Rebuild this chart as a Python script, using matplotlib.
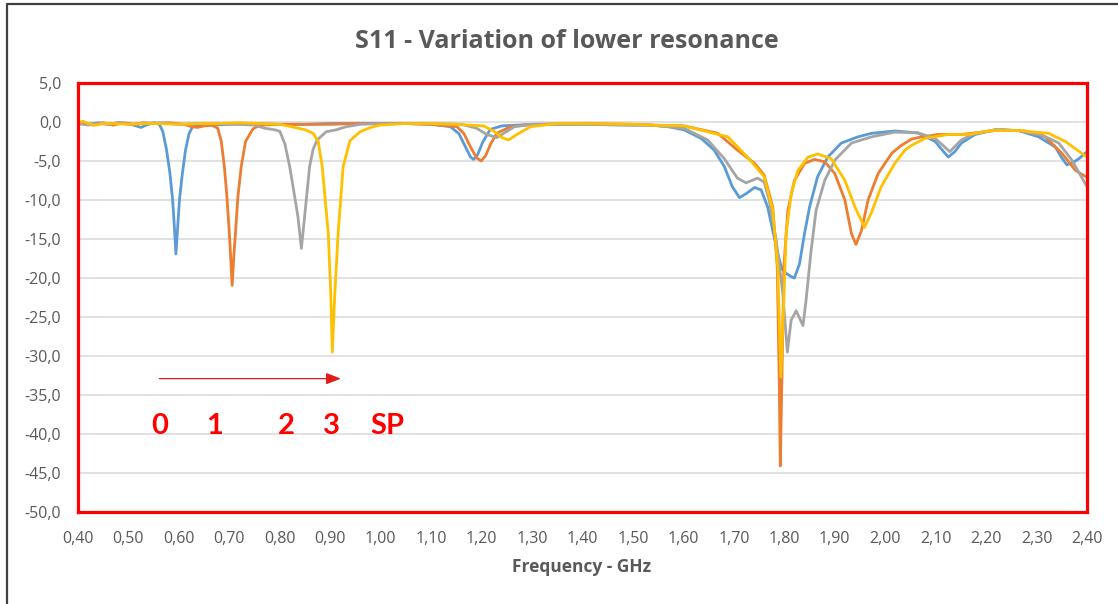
import numpy as np
import matplotlib.pyplot as plt
from matplotlib.lines import Line2D
from matplotlib.ticker import FixedLocator, FuncFormatter

plt.rcParams['font.family'] = ['Open Sans', 'DejaVu Sans']

# S11 sweeps (GHz, dB) for each tuning step
freq_0 = [0.40, 0.42, 0.44, 0.46, 0.48, 0.50, 0.515, 0.525, 0.535, 0.55, 0.561, 0.568,
          0.5755, 0.582, 0.5875, 0.591, 0.594, 0.597, 0.601, 0.607, 0.613, 0.620, 0.627,
          0.64, 0.66, 0.70, 0.75, 0.80, 0.85, 0.90, 0.95, 1.00, 1.05, 1.10, 1.138, 1.155,
          1.168, 1.178, 1.184, 1.192, 1.202, 1.217, 1.24, 1.30, 1.40, 1.50, 1.535, 1.57,
          1.601, 1.635, 1.661, 1.681, 1.697, 1.711, 1.724, 1.741, 1.754, 1.767, 1.777,
          1.787, 1.795, 1.8036, 1.813, 1.820, 1.830, 1.840, 1.850, 1.866, 1.886, 1.913,
          1.946, 1.973, 2.019, 2.065, 2.099, 2.113, 2.125, 2.138, 2.151, 2.178, 2.218,
          2.264, 2.304, 2.337, 2.350, 2.360, 2.372, 2.384, 2.400]
s11_0 = [-0.1, -0.3, -0.1, -0.3, -0.1, -0.2, -0.5, -0.7, -0.4, -0.1, -0.3, -1.2,
         -3.6, -6.5, -10.0, -13.5, -16.9, -14.0, -10.0, -6.5, -3.6, -1.5, -0.6,
         -0.5, -0.4, -0.3, -0.2, -0.3, -0.3, -0.2, -0.2, -0.2, -0.2, -0.3, -0.6, -1.5,
         -3.2, -4.5, -4.8, -4.2, -2.6, -0.95, -0.5, -0.3, -0.3, -0.4, -0.4, -0.6,
         -1.0, -2.1, -3.6, -5.7, -8.3, -9.7, -9.2, -8.4, -8.7, -10.9, -13.9,
         -16.9, -18.8, -19.4, -19.8, -20.0, -18.2, -14.3, -10.9, -7.0, -4.5, -2.7,
         -1.9, -1.45, -1.15, -1.4, -2.5, -3.6, -4.5, -3.8, -2.7, -1.6, -1.0,
         -1.1, -1.9, -3.2, -4.6, -5.5, -5.2, -4.7, -3.8]

freq_1 = [0.40, 0.41, 0.43, 0.45, 0.47, 0.49, 0.51, 0.53, 0.55, 0.58, 0.61, 0.625, 0.637,
          0.65, 0.665, 0.677, 0.684, 0.690, 0.695, 0.700, 0.7055, 0.709, 0.712, 0.717,
          0.7235, 0.732, 0.7465, 0.76, 0.80, 0.85, 0.90, 0.95, 1.00, 1.05, 1.10, 1.151,
          1.165, 1.178, 1.190, 1.199, 1.208, 1.218, 1.230, 1.257, 1.30, 1.40, 1.50, 1.535,
          1.601, 1.668, 1.707, 1.741, 1.760, 1.777, 1.786, 1.790, 1.792, 1.795, 1.799,
          1.807, 1.820, 1.840, 1.860, 1.880, 1.900, 1.920, 1.933, 1.942, 1.953, 1.966,
          1.986, 2.013, 2.032, 2.052, 2.065, 2.105, 2.151, 2.198, 2.231, 2.277, 2.317,
          2.350, 2.377, 2.400]
s11_1 = [-0.3, -0.1, -0.4, -0.1, -0.4, -0.1, -0.3, -0.1, -0.2, -0.1, -0.3, -0.6, -0.7,
         -0.5, -0.4, -0.8, -2.5, -5.7, -9.5, -14.3, -20.95, -17.0, -14.3, -9.5,
         -5.7, -2.5, -0.9, -0.4, -0.3, -0.3, -0.3, -0.2, -0.2, -0.2, -0.3, -0.6,
         -1.5, -3.2, -4.6, -5.0, -4.3, -2.8, -1.45, -0.6, -0.3, -0.2, -0.3, -0.4,
         -0.5, -1.45, -3.6, -5.3, -6.8, -10.9, -18.6, -33.6, -44.1, -33.6, -18.6,
         -11.3, -7.5, -5.3, -4.8, -5.1, -6.6, -10.0, -14.3, -15.7, -13.9, -10.0,
         -6.6, -4.0, -3.0, -2.2, -2.0, -1.6, -1.6, -1.25, -1.0, -1.15, -1.9,
         -4.0, -6.2, -7.1]

freq_2 = [0.40, 0.42, 0.44, 0.46, 0.48, 0.50, 0.53, 0.56, 0.60, 0.64, 0.68, 0.72, 0.75,
          0.77, 0.79, 0.80, 0.81, 0.8195, 0.828, 0.836, 0.8427, 0.849, 0.859, 0.866,
          0.874, 0.892, 0.912, 0.932, 0.959, 1.00, 1.05, 1.10, 1.16, 1.19, 1.21, 1.230,
          1.245, 1.265, 1.30, 1.40, 1.50, 1.535, 1.601, 1.648, 1.681, 1.707, 1.724, 1.747,
          1.760, 1.770, 1.784, 1.797, 1.806, 1.8135, 1.8235, 1.837, 1.843, 1.853, 1.863,
          1.880, 1.900, 1.933, 1.973, 2.019, 2.065, 2.099, 2.128, 2.151, 2.178, 2.218,
          2.264, 2.311, 2.344, 2.370, 2.400]
s11_2 = [-0.2, -0.4, -0.2, -0.3, -0.1, -0.3, -0.2, -0.1, -0.3, -0.2, -0.2, -0.3, -0.4,
         -0.8, -1.0, -1.2, -2.8, -5.7, -9.0, -12.2, -16.2, -12.2, -5.7, -3.5,
         -2.3, -1.25, -1.0, -0.6, -0.3, -0.2, -0.2, -0.2, -0.3, -0.8, -1.6, -2.0,
         -1.4, -0.6, -0.3, -0.3, -0.4, -0.4, -0.8, -2.3, -4.7, -7.2, -7.8, -7.2,
         -7.7, -10.0, -15.2, -22.0, -29.5, -25.4, -24.2, -26.1, -22.9, -16.5, -11.3,
         -7.5, -4.9, -2.7, -1.9, -1.3, -1.4, -2.1, -3.8, -2.3, -1.45, -1.0,
         -1.1, -1.7, -2.7, -4.9, -8.3]

freq_3 = [0.40, 0.41, 0.42, 0.435, 0.45, 0.47, 0.50, 0.53, 0.56, 0.60, 0.64, 0.68, 0.72,
          0.76, 0.80, 0.83, 0.85, 0.866, 0.876, 0.884, 0.896, 0.901, 0.904, 0.909,
          0.9155, 0.9255, 0.939, 0.959, 0.980, 0.998, 1.05, 1.10, 1.15, 1.204, 1.225,
          1.240, 1.2535, 1.270, 1.297, 1.35, 1.40, 1.50, 1.535, 1.601, 1.688, 1.727,
          1.760, 1.777, 1.787, 1.793, 1.799, 1.8035, 1.8135, 1.827, 1.847, 1.866, 1.893,
          1.920, 1.940, 1.959, 1.972, 1.992, 2.019, 2.039, 2.052, 2.079, 2.125, 2.165,
          2.211, 2.264, 2.324, 2.357, 2.400]
s11_3 = [-0.1, 0.1, -0.2, -0.4, -0.2, -0.2, -0.3, -0.2, -0.2, -0.3, -0.2, -0.2, -0.1,
         -0.2, -0.3, -0.7, -1.0, -1.45, -2.5, -5.7, -14.3, -22.0, -29.5, -22.0,
         -14.3, -5.7, -2.4, -1.25, -0.7, -0.4, -0.2, -0.2, -0.3, -0.5, -1.2,
         -2.0, -2.3, -1.6, -0.6, -0.2, -0.2, -0.3, -0.4, -0.5, -1.9, -4.5,
         -7.0, -11.3, -18.6, -32.7, -22.9, -14.3, -9.2, -6.2, -4.5, -4.1, -4.7,
         -7.5, -10.9, -13.5, -11.7, -8.3, -5.3, -3.6, -3.0, -2.1, -1.6, -1.6,
         -1.1, -1.1, -1.45, -2.5, -4.5]

series = [(freq_0, s11_0, '#5B9BD5'),
          (freq_1, s11_1, '#ED7D31'),
          (freq_2, s11_2, '#A5A5A5'),
          (freq_3, s11_3, '#FFC000')]

step_labels = ['0', '1', '2', '3', 'SP']
step_x = [0.561, 0.670, 0.813, 0.903, 1.013]

x_ticks = np.round(np.arange(0.40, 2.401, 0.10), 2)
y_ticks = np.arange(-50, 5.1, 5)

text_grey = '#595959'

fig = plt.figure(figsize=(11.18, 6.04), dpi=100)
ax = fig.add_axes([0.0698, 0.1523, 0.9025, 0.7103])

for f, s, c in series:
    ax.plot(f, s, color=c, lw=2.0, solid_joinstyle='round', zorder=3)

ax.set_xlim(0.40, 2.40)
ax.set_ylim(-50, 5)
ax.xaxis.set_major_locator(FixedLocator(x_ticks))
ax.yaxis.set_major_locator(FixedLocator(y_ticks))
ax.xaxis.set_major_formatter(FuncFormatter(lambda v, p: f'{v:.2f}'.replace('.', ',')))
ax.yaxis.set_major_formatter(FuncFormatter(lambda v, p: f'{v:.1f}'.replace('.', ',')))
ax.tick_params(length=0, labelsize=11.5, labelcolor=text_grey)
ax.tick_params(axis='x', pad=14)
ax.tick_params(axis='y', pad=12)
ax.grid(axis='y', color='#D9D9D9', lw=1.1, zorder=0)
ax.set_axisbelow(True)
for sp in ax.spines.values():
    sp.set_color('#FF0000')
    sp.set_linewidth(2.3)
    sp.set_zorder(5)

# step markers and shift arrow
for lab, x in zip(step_labels, step_x):
    ax.text(x, -39.0, lab, color='#FF0000', fontsize=21, fontweight='bold',
            family=['Lato', 'DejaVu Sans'], ha='center', va='center', zorder=4)
ax.annotate('', xy=(0.921, -32.9), xytext=(0.561, -32.9),
            arrowprops=dict(arrowstyle='-|>,head_length=0.9,head_width=0.35',
                            color='#E31A1A', lw=0.9, shrinkA=0, shrinkB=0), zorder=4)

fig.text(0.5067, 0.932, 'S11 - Variation of lower resonance', ha='center', va='center',
         fontsize=18, fontweight='bold', color=text_grey)
fig.text(0.52, 0.061, 'Frequency - GHz', ha='center', va='center',
         fontsize=12.5, fontweight='bold', color=text_grey)

# chart area border (left and top edges)
fig.add_artist(Line2D([7 / 1118, 7 / 1118, 1.0], [0.0, 1 - 4 / 604, 1 - 4 / 604],
                      transform=fig.transFigure, color='#404040', lw=1.6))

fig.savefig('out.png', dpi=100, facecolor='white')
